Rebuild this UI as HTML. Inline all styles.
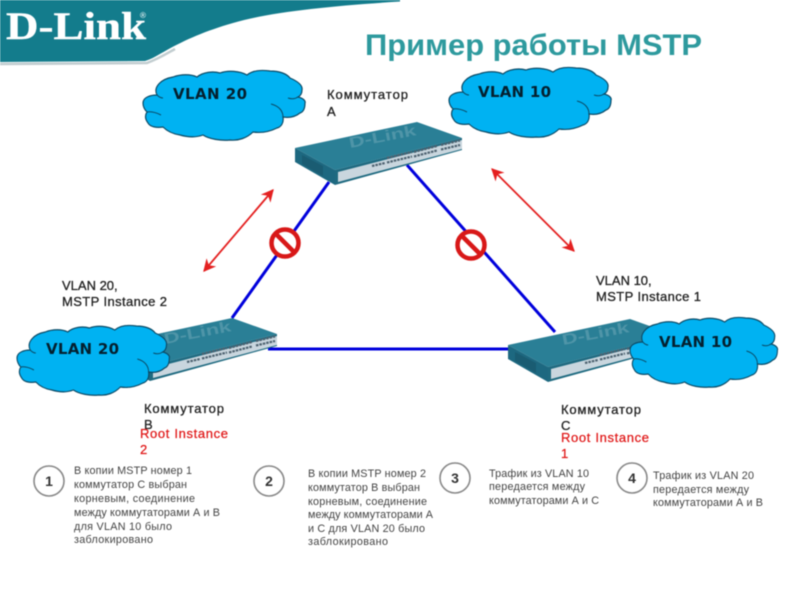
<!DOCTYPE html>
<html><head><meta charset="utf-8"><style>
html,body{margin:0;padding:0;background:#fff;width:800px;height:600px;overflow:hidden}
svg{display:block;filter:blur(.45px)}
text{font-family:"Liberation Sans","Noto Sans CJK SC",sans-serif}
.l{font-size:13px;fill:#222;stroke:#222;stroke-width:.3}
.r{font-size:13px;fill:#e01818;stroke:#e01818;stroke-width:.25}
.v{font-family:"DejaVu Sans",sans-serif;font-size:15px;font-weight:bold;fill:#04202f}
.b{font-size:10.8px;fill:#444}
.n{font-size:14px;font-weight:bold;fill:#333;text-anchor:middle}
.c{fill:#fff;stroke:#888;stroke-width:1.6}
</style></head><body>
<svg width="800" height="600" viewBox="0 0 800 600" xmlns="http://www.w3.org/2000/svg">
<defs>
<g id="cloud">
<path d="M0,32 C0,26 8,24 14,24 C10,16 18,8 30,6 C38,3 48,3 54,6 C60,1 70,0 77,2 C85,-1 97,0 104,4 C110,-1 120,-1 127,0 C137,0 144,3 147,7 C154,10 160,14 159,19 C159,23 157,25 155,26 C160,27 163,30 162,32 C162,38 160,41 157,42 C152,46 146,47 140,46 C141,52 138,56 134,57 C126,61 117,62 110,61 C104,67 95,70 87,69 C78,70 66,68 60,64 C52,67 44,66 37,64 C30,63 24,60 20,56 C14,57 7,56 5,52 C2,48 2,44 4,41 C1,38 0,35 0,32 Z" fill="#00b2f2" stroke="#0b4a66" stroke-width="1.2"/>
<path d="M4,41 C9,40 14,42 18,44 M140,46 C140,40 136,35 128,33 M155,26 C152,28 148,28 145,27 M14,24 C16,26 18,27 20,27" fill="none" stroke="#0b4a66" stroke-width="1"/>
</g>
<g id="sw">
<polygon points="0,26 122,0 167,16 40,48" fill="#2a7f96"/>
<polygon points="0,26 40,48 40,63 0,40" fill="#1d6880"/>
<polygon points="40,48 167,16 167,28 40,63" fill="#1f6a80"/>
<polygon points="43,50 167,18 167,27 43,60" fill="#c9d6de"/>
<polygon points="7,33 28,44 28,54 7,42" fill="#1a5c72"/>
<g stroke="#4e6270" stroke-width="2.2" stroke-dasharray="2.5 1" fill="none">
<line x1="92" y1="36" x2="117" y2="30"/><line x1="92" y1="40.5" x2="117" y2="34.5"/>
<line x1="119" y1="30" x2="142" y2="24"/><line x1="119" y1="34.5" x2="142" y2="28.5"/>
<line x1="146" y1="23" x2="165" y2="18.5"/><line x1="146" y1="27.5" x2="165" y2="23"/>
<line x1="77" y1="44" x2="90" y2="41"/>
</g>
<text transform="translate(55,26) rotate(-11)" textLength="68" lengthAdjust="spacingAndGlyphs" style="font-size:15px;font-weight:bold;fill:#4f95a8">D-Link</text>
</g>
<marker id="ah" viewBox="0 0 10 10" refX="9" refY="5" markerWidth="7" markerHeight="7" orient="auto-start-reverse"><path d="M0,0 L10,5 L0,10 L3,5 Z" fill="#e42020"/></marker>
</defs>

<path d="M0,64 L147,63 C158,59 166,54 175,49" fill="none" stroke="#a8b8bc" stroke-width="2.5" opacity=".7"/>
<path d="M0,0 H400 V1.5 C330,6 270,12 233,23 C205,31 185,40 167,50 C158,55 152,59 145,61 L0,62 Z" fill="#137c8c"/>
<text x="6" y="39" textLength="140" lengthAdjust="spacingAndGlyphs" style="font-family:'Liberation Serif',serif;font-weight:bold;font-size:39px;fill:#fff;stroke:#fff;stroke-width:.4">D-Link</text>
<text x="140" y="18" style="font-size:8px;fill:#fff">®</text>

<text x="365" y="55" textLength="337" lengthAdjust="spacingAndGlyphs" style="font-size:30px;font-weight:bold;fill:#2e9a9e">Пример работы MSTP</text>

<g stroke="#0000dc" stroke-width="3" fill="none">
<line x1="329" y1="182" x2="232" y2="318"/>
<line x1="407" y1="165" x2="555" y2="332"/>
<line x1="268" y1="349" x2="512" y2="349"/>
</g>

<use href="#sw" x="295" y="122"/>
<use href="#sw" x="110" y="318"/>
<use href="#sw" x="508" y="319"/>

<use href="#cloud" transform="translate(143,71)"/>
<use href="#cloud" transform="translate(449,68)"/>
<use href="#cloud" transform="translate(17,326) scale(.94,1)"/>
<use href="#cloud" transform="translate(630,318) scale(.91,1)"/>

<line x1="273" y1="190" x2="204" y2="271" stroke="#e42020" stroke-width="1.8" marker-start="url(#ah)" marker-end="url(#ah)"/>
<line x1="492" y1="169" x2="574" y2="251" stroke="#e42020" stroke-width="1.8" marker-start="url(#ah)" marker-end="url(#ah)"/>

<g fill="#fff" stroke="#d81818" stroke-width="4.5">
<circle cx="285" cy="243" r="13.5"/><line x1="275.5" y1="233.5" x2="294.5" y2="252.5"/>
<circle cx="471" cy="245" r="13.5"/><line x1="461.5" y1="235.5" x2="480.5" y2="254.5"/>
</g>

<text class="v" x="173" y="99" textLength="74">VLAN 20</text>
<text class="v" x="478" y="97" textLength="73">VLAN 10</text>
<text class="v" x="46" y="354" textLength="73">VLAN 20</text>
<text class="v" x="659" y="347" textLength="73">VLAN 10</text>

<text class="l" x="327" y="99" textLength="81">Коммутатор</text>
<text class="l" x="327" y="116">А</text>
<text class="l" x="62" y="290">VLAN 20,</text>
<text class="l" x="62" y="306" textLength="105">MSTP Instance 2</text>
<text class="l" x="596" y="285">VLAN 10,</text>
<text class="l" x="596" y="301" textLength="105">MSTP Instance 1</text>
<text class="l" x="144" y="413" textLength="80">Коммутатор</text>
<text class="l" x="144" y="429">В</text>
<text class="l" x="561" y="414" textLength="80">Коммутатор</text>
<text class="l" x="561" y="430">С</text>
<text class="r" x="140" y="438" textLength="88">Root Instance</text>
<text class="r" x="140" y="454">2</text>
<text class="r" x="561" y="442" textLength="88">Root Instance</text>
<text class="r" x="561" y="458">1</text>

<circle class="c" cx="49" cy="481" r="15"/><text class="n" x="49" y="486">1</text>
<circle class="c" cx="269" cy="481" r="15"/><text class="n" x="269" y="486">2</text>
<circle class="c" cx="455" cy="478" r="15"/><text class="n" x="455" y="483">3</text>
<circle class="c" cx="632" cy="478" r="15"/><text class="n" x="632" y="483">4</text>

<text class="b" x="74" y="474" textLength="118">В копии MSTP номер 1</text>
<text class="b" x="74" y="488" textLength="113">коммутатор С выбран</text>
<text class="b" x="74" y="502" textLength="121">корневым, соединение</text>
<text class="b" x="74" y="516" textLength="146">между коммутаторами А и В</text>
<text class="b" x="74" y="530" textLength="98">для VLAN 10 было</text>
<text class="b" x="74" y="543" textLength="79">заблокировано</text>

<text class="b" x="308" y="477" textLength="118">В копии MSTP номер 2</text>
<text class="b" x="308" y="491" textLength="112">коммутатор В выбран</text>
<text class="b" x="308" y="505" textLength="119">корневым, соединение</text>
<text class="b" x="308" y="518" textLength="125">между коммутаторами А</text>
<text class="b" x="308" y="532" textLength="117">и С для VLAN 20 было</text>
<text class="b" x="308" y="545" textLength="80">заблокировано</text>

<text class="b" x="489" y="477" textLength="100">Трафик из VLAN 10</text>
<text class="b" x="489" y="490" textLength="96">передается между</text>
<text class="b" x="489" y="504" textLength="110">коммутаторами А и С</text>

<text class="b" x="653" y="479" textLength="101">Трафик из VLAN 20</text>
<text class="b" x="653" y="493" textLength="96">передается между</text>
<text class="b" x="653" y="506" textLength="110">коммутаторами А и В</text>
</svg>
</body></html>
